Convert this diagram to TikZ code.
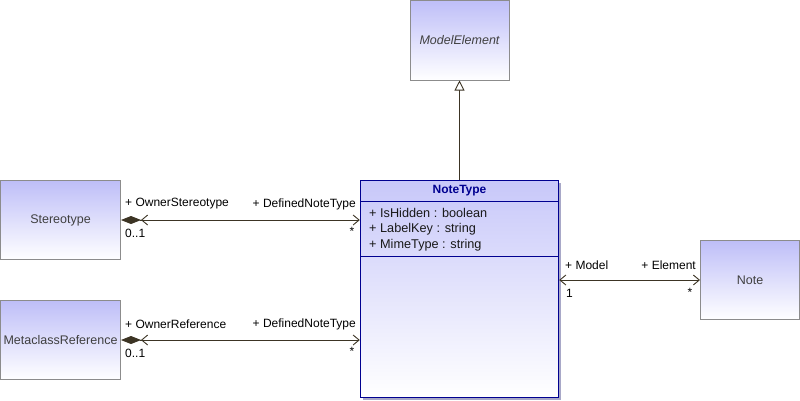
\documentclass[tikz,border=0pt]{standalone}
\usepackage{fontspec}
\setmainfont{Liberation Sans}
\usetikzlibrary{arrows.meta}
\definecolor{lav}{HTML}{BEBEF8}
\definecolor{boxgrey}{HTML}{8C8C8C}
\definecolor{navy}{HTML}{000090}
\definecolor{txtgrey}{HTML}{404040}
\definecolor{linec}{HTML}{3C3424}
\definecolor{shadowc}{HTML}{A8A8C8}
\tikzset{
  classbox/.style={draw=boxgrey, line width=1pt, top color=lav, bottom color=white,
    minimum width=#1, minimum height=79pt, inner sep=0pt, text=txtgrey,
    font=\fontsize{12.5}{14}\selectfont},
  lbl/.style={inner sep=0pt, text=black, font=\fontsize{12}{14}\selectfont},
  attr/.style={inner sep=0pt, anchor=west, text=black!90, font=\fontsize{12.7}{14}\selectfont},
  assoc/.style={draw=linec, line width=0.9pt},
  mybarb/.tip={Straight Barb[length=6pt,width=10pt,line width=0.9pt]},
  mydia/.tip={Diamond[length=20pt,width=8pt,fill=linec]}
}
\begin{document}
\begin{tikzpicture}[x=1pt,y=-1pt]
\useasboundingbox (0,0) rectangle (800,400);
% NoteType with shadow
\fill[shadowc] (362.5,182.5) rectangle (560.5,399.5);
\node[draw=navy, line width=1.4pt, top color=lav!85, bottom color=white,
  minimum width=198pt, minimum height=217pt, inner sep=0pt] (nt) at (459.5,289) {};
\draw[navy, line width=1pt] (360.5,201.5) -- (558.5,201.5);
\draw[navy, line width=1pt] (360.5,256.5) -- (558.5,256.5);
\node[inner sep=0pt, text=navy, font=\bfseries\fontsize{12}{14}\selectfont] (ntname) at (459.5,190.5) {NoteType};
\node[attr] (a1) at (369,213) {+ IsHidden : boolean};
\node[attr] (a2) at (369,229) {+ LabelKey : string};
\node[attr] (a3) at (369,245) {+ MimeType : string};
% other classes
\node[classbox=99pt, minimum height=80pt, font=\itshape\fontsize{12.5}{14}\selectfont] (me) at (459.5,40) {ModelElement};
\node[classbox=120pt] (st) at (60.5,220) {Stereotype};
\node[classbox=120pt] (mr) at (60.5,340) {MetaclassReference};
\node[classbox=99pt] (no) at (750,280) {Note};
% generalization
\draw[assoc, -{Triangle[open,length=10pt,width=10pt,line width=0.9pt,fill=white]}] (nt.north -| me.south) -- (me.south);
% associations
\draw[assoc, {[sep=0pt]mydia[] mybarb[]}-{mybarb[]}] (st.east) -- (nt.west |- st.east);
\draw[assoc, {[sep=0pt]mydia[] mybarb[]}-{mybarb[]}] (mr.east) -- (nt.west |- mr.east);
\draw[assoc, {mybarb[]}-{mybarb[]}] (nt.east |- no.west) -- (no.west);
% labels
\node[lbl, anchor=west] (l1) at (125,204) {+ OwnerStereotype};
\node[lbl, anchor=east] (l2) at (356,204) {+ DefinedNoteType};
\node[lbl, anchor=west] (m1) at (125,233) {0..1};
\node[lbl] (m2) at (352,231) {*};
\node[lbl, anchor=west] (l3) at (125,324) {+ OwnerReference};
\node[lbl, anchor=east] (l4) at (356,324) {+ DefinedNoteType};
\node[lbl, anchor=west] (m3) at (125,353) {0..1};
\node[lbl] (m4) at (352,351) {*};
\node[lbl, anchor=west] (l5) at (565,265) {+ Model};
\node[lbl, anchor=east] (l6) at (696,265) {+ Element};
\node[lbl, anchor=west] (m5) at (566,293) {1};
\node[lbl] (m6) at (690,292) {*};
\end{tikzpicture}
\end{document}
